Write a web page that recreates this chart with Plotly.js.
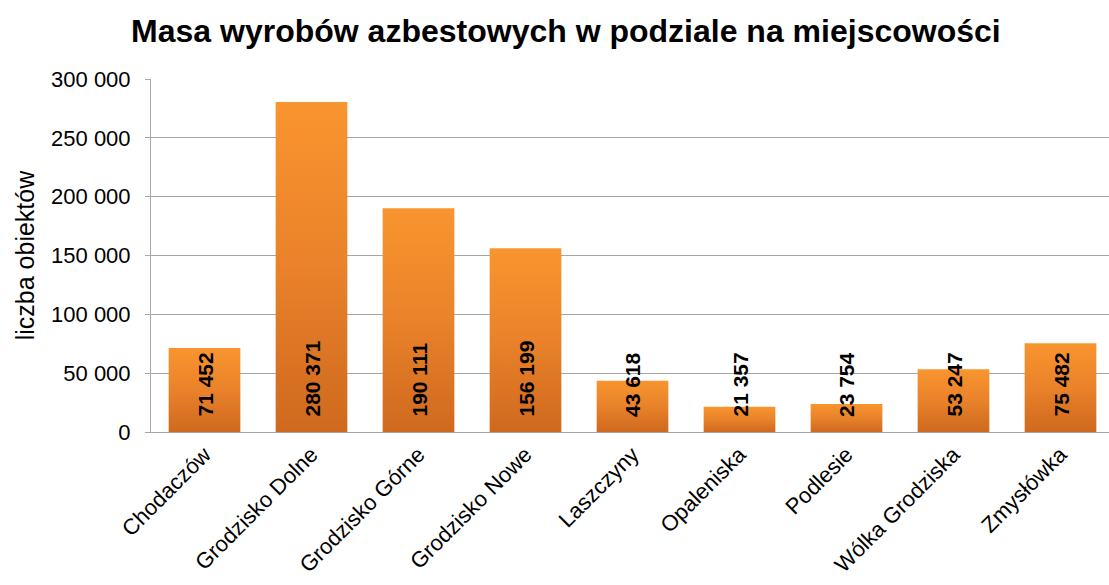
<!DOCTYPE html>
<html>
<head>
<meta charset="utf-8">
<script src="https://cdn.plot.ly/plotly-3.0.1.min.js"></script>
<style>html,body{margin:0;padding:0;background:#fff;overflow:hidden;}#chart{width:1114px;height:585px;}</style>
</head>
<body>
<div id="chart"></div>
<script>
var categories = ["Chodaczów", "Grodzisko Dolne", "Grodzisko Górne", "Grodzisko Nowe", "Laszczyny", "Opaleniska", "Podlesie", "Wólka Grodziska", "Zmysłówka"];
var values = [71452, 280371, 190111, 156199, 43618, 21357, 23754, 53247, 75482];
var yTicks = [0, 50000, 100000, 150000, 200000, 250000, 300000];

function fmt(v) { return String(v).replace(/\B(?=(\d{3})+(?!\d))/g, " "); }
var labels = values.map(fmt);
var tickLabels = yTicks.map(fmt);

var font = "Liberation Sans, Arial, sans-serif";

var trace = {
  type: "bar",
  x: categories,
  y: values,
  marker: {color: "#E8822A", line: {width: 0}},
  textposition: "none",
  hoverinfo: "x+y"
};

var annotations = categories.map(function (c, i) {
  return {
    x: c, y: 0, xref: "x", yref: "y",
    text: labels[i], showarrow: false, textangle: -90,
    xanchor: "center", yanchor: "bottom", yshift: 13,
    font: {family: font, size: 21, color: "#000", weight: "bold"}
  };
});

var layout = {
  width: 1114, height: 585,
  margin: {l: 151, r: 0, t: 79, b: 153},
  paper_bgcolor: "#fff", plot_bgcolor: "#fff",
  title: {text: "<b>Masa wyrobów azbestowych w podziale na miejscowości</b>", x: 0.508, xref: "container", y: 0.948, yref: "container", yanchor: "middle",
    font: {family: font, size: 32, color: "#000"}},
  bargap: 0.33,
  showlegend: false,
  xaxis: {
    type: "category", tickangle: -45,
    tickfont: {family: font, size: 22, color: "#000"},
    showline: true, linecolor: "#a6a6a6", linewidth: 1,
    ticks: "", showgrid: false, fixedrange: true
  },
  yaxis: {
    range: [0, 300000],
    tickvals: yTicks, ticktext: tickLabels,
    tickfont: {family: font, size: 22, color: "#000"},
    ticklabelstandoff: 10,
    showline: true, linecolor: "#a6a6a6", linewidth: 1,
    ticks: "outside", ticklen: 5, tickcolor: "#a6a6a6",
    gridcolor: "#a6a6a6", gridwidth: 1,
    zeroline: false, fixedrange: true,
    title: {text: "liczba obiektów", font: {family: font, size: 25, color: "#000"}, standoff: 9}
  },
  annotations: annotations
};

Plotly.newPlot("chart", [trace], layout, {displayModeBar: false, staticPlot: true}).then(function (gd) {
  var svg = gd.querySelector("svg.main-svg");
  var ns = "http://www.w3.org/2000/svg";
  var defs = svg.querySelector("defs") || svg.insertBefore(document.createElementNS(ns, "defs"), svg.firstChild);
  var grad = document.createElementNS(ns, "linearGradient");
  grad.setAttribute("id", "barGrad");
  grad.setAttribute("x1", "0"); grad.setAttribute("y1", "0");
  grad.setAttribute("x2", "0"); grad.setAttribute("y2", "1");
  [["0", "#F9952F"], ["0.5", "#E9822A"], ["1", "#CF691E"]].forEach(function (s) {
    var st = document.createElementNS(ns, "stop");
    st.setAttribute("offset", s[0]); st.setAttribute("stop-color", s[1]);
    grad.appendChild(st);
  });
  defs.appendChild(grad);
  gd.querySelectorAll(".barlayer .point path").forEach(function (p) {
    p.style.fill = "url(#barGrad)";
  });
});
</script>
</body>
</html>
